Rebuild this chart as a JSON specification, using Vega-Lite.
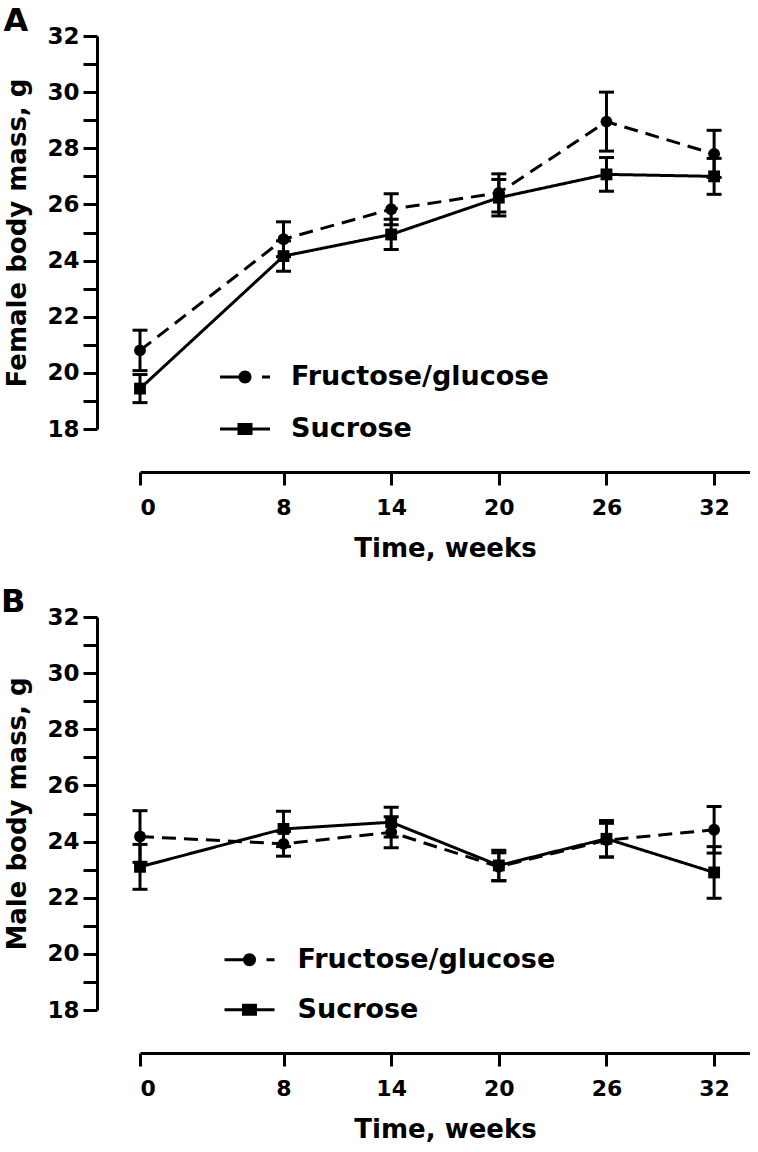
{
  "$schema": "https://vega.github.io/schema/vega-lite/v6.json",
  "background": "white",
  "padding": {"left": 0, "top": 5, "right": 0, "bottom": 0},
  "spacing": 25,
  "columns": 1,
  "align": "none",
  "resolve": {"scale": {"shape": "independent", "strokeDash": "independent", "opacity": "independent", "strokeWidth": "independent"}, "legend": {"shape": "independent", "strokeDash": "independent", "opacity": "independent", "strokeWidth": "independent"}},
  "data": {"values": [
    {"panel": "A", "series": "Fructose/glucose", "week": 0, "mean": 20.8, "sem": 0.72},
    {"panel": "A", "series": "Fructose/glucose", "week": 8, "mean": 24.76, "sem": 0.62},
    {"panel": "A", "series": "Fructose/glucose", "week": 14, "mean": 25.83, "sem": 0.55},
    {"panel": "A", "series": "Fructose/glucose", "week": 20, "mean": 26.41, "sem": 0.68},
    {"panel": "A", "series": "Fructose/glucose", "week": 26, "mean": 28.95, "sem": 1.05},
    {"panel": "A", "series": "Fructose/glucose", "week": 32, "mean": 27.8, "sem": 0.84},
    {"panel": "A", "series": "Sucrose", "week": 0, "mean": 19.44, "sem": 0.5},
    {"panel": "A", "series": "Sucrose", "week": 8, "mean": 24.16, "sem": 0.54},
    {"panel": "A", "series": "Sucrose", "week": 14, "mean": 24.93, "sem": 0.54},
    {"panel": "A", "series": "Sucrose", "week": 20, "mean": 26.24, "sem": 0.65},
    {"panel": "A", "series": "Sucrose", "week": 26, "mean": 27.07, "sem": 0.6},
    {"panel": "A", "series": "Sucrose", "week": 32, "mean": 27.0, "sem": 0.64},
    {"panel": "B", "series": "Fructose/glucose", "week": 0, "mean": 24.18, "sem": 0.92},
    {"panel": "B", "series": "Fructose/glucose", "week": 8, "mean": 23.92, "sem": 0.44},
    {"panel": "B", "series": "Fructose/glucose", "week": 14, "mean": 24.33, "sem": 0.55},
    {"panel": "B", "series": "Fructose/glucose", "week": 20, "mean": 23.1, "sem": 0.5},
    {"panel": "B", "series": "Fructose/glucose", "week": 26, "mean": 24.05, "sem": 0.6},
    {"panel": "B", "series": "Fructose/glucose", "week": 32, "mean": 24.42, "sem": 0.83},
    {"panel": "B", "series": "Sucrose", "week": 0, "mean": 23.1, "sem": 0.8},
    {"panel": "B", "series": "Sucrose", "week": 8, "mean": 24.45, "sem": 0.63},
    {"panel": "B", "series": "Sucrose", "week": 14, "mean": 24.69, "sem": 0.53},
    {"panel": "B", "series": "Sucrose", "week": 20, "mean": 23.15, "sem": 0.54},
    {"panel": "B", "series": "Sucrose", "week": 26, "mean": 24.1, "sem": 0.65},
    {"panel": "B", "series": "Sucrose", "week": 32, "mean": 22.9, "sem": 0.92}
  ]},
  "concat": [
    {
      "width": 610,
      "height": 393,
      "title": {"text": "A", "anchor": "start", "frame": "bounds", "fontSize": 32, "font": "DejaVu Sans", "fontWeight": "bold", "color": "black", "offset": -13, "dx": -1.5},
      "transform": [{"filter": "datum.panel === 'A'"}],
      "encoding": {
        "x": {"field": "week", "type": "quantitative", "scale": {"domain": [0, 34], "nice": false, "zero": false},
          "axis": {"title": "Time, weeks", "values": [0, 8, 14, 20, 26, 32], "offset": 43, "tickSize": 13, "labelPadding": 12, "titlePadding": 17, "labelFontSize": 22}},
        "y": {"field": "mean", "type": "quantitative", "scale": {"domain": [18, 32], "nice": false, "zero": false},
          "axis": {"title": "Female body mass, g", "values": [18, 19, 20, 21, 22, 23, 24, 25, 26, 27, 28, 29, 30, 31, 32],
            "labelExpr": "datum.value % 2 === 0 ? datum.label : ''", "offset": 43, "tickSize": 14, "labelPadding": 4, "titlePadding": 16, "labelFontSize": 23,
            "encode": {"ticks": {"update": {"x2": {"signal": "datum.value % 2 === 0 ? -14 : -10"}}}}}}
      },
      "layer": [
        {"mark": {"type": "errorbar", "ticks": {"size": 15, "thickness": 3, "color": "black", "opacity": 1}, "rule": {"strokeWidth": 3, "color": "black", "opacity": 1}, "thickness": 3, "color": "black", "opacity": 1},
          "encoding": {"yError": {"field": "sem"}, "detail": {"field": "series", "type": "nominal"}}},
        {"mark": {"type": "line", "strokeWidth": 3, "color": "black"},
          "encoding": {"strokeDash": {"field": "series", "type": "nominal", "scale": {"domain": ["Fructose/glucose", "Sucrose"], "range": [[14, 8], [1, 0]]}, "legend": null}}},
        {"mark": {"type": "point", "filled": true, "color": "black", "size": 140},
          "encoding": {
            "shape": {"field": "series", "type": "nominal", "scale": {"range": ["circle", "square"]}, "legend": null},
            "opacity": {"field": "series", "type": "ordinal", "scale": {"domain": ["Sucrose", "Fructose/glucose"], "range": [1, 1]},
              "legend": {"orient": "none", "legendX": 80, "legendY": 316, "title": null, "values": ["Fructose/glucose"],
                "symbolType": "M-1,-0.06H-0.2V0.06H-1Z M0.26,0A0.26,0.26 0 1,1 -0.26,0A0.26,0.26 0 1,1 0.26,0Z M0.68,-0.06H1V0.06H0.68Z",
                "symbolSize": 2500, "symbolStrokeWidth": 0, "symbolFillColor": "black", "symbolOpacity": 1,
                "labelFont": "DejaVu Sans", "labelFontSize": 27, "labelFontWeight": "bold", "labelColor": "black", "labelOffset": 21, "padding": 0, "labelLimit": 400}},
            "strokeWidth": {"field": "series", "type": "ordinal", "sort": "descending", "scale": {"range": [0, 0]},
              "legend": {"orient": "none", "legendX": 80, "legendY": 368, "title": null, "values": ["Sucrose"],
                "symbolType": "M-1,-0.06H1V0.06H-1Z M-0.3,-0.24H0.3V0.24H-0.3Z",
                "symbolSize": 2500, "symbolStrokeWidth": 0, "symbolFillColor": "black", "symbolOpacity": 1,
                "labelFont": "DejaVu Sans", "labelFontSize": 27, "labelFontWeight": "bold", "labelColor": "black", "labelOffset": 21, "padding": 0, "labelLimit": 400}}}}
      ]
    },
    {
      "width": 610,
      "height": 393,
      "title": {"text": "B", "anchor": "start", "frame": "bounds", "fontSize": 32, "font": "DejaVu Sans", "fontWeight": "bold", "color": "black", "offset": -13, "dx": -4},
      "transform": [{"filter": "datum.panel === 'B'"}],
      "encoding": {
        "x": {"field": "week", "type": "quantitative", "scale": {"domain": [0, 34], "nice": false, "zero": false},
          "axis": {"title": "Time, weeks", "values": [0, 8, 14, 20, 26, 32], "offset": 43, "tickSize": 13, "labelPadding": 12, "titlePadding": 17, "labelFontSize": 22}},
        "y": {"field": "mean", "type": "quantitative", "scale": {"domain": [18, 32], "nice": false, "zero": false},
          "axis": {"title": "Male body mass, g", "values": [18, 19, 20, 21, 22, 23, 24, 25, 26, 27, 28, 29, 30, 31, 32],
            "labelExpr": "datum.value % 2 === 0 ? datum.label : ''", "offset": 43, "tickSize": 14, "labelPadding": 4, "titlePadding": 16, "labelFontSize": 23,
            "encode": {"ticks": {"update": {"x2": {"signal": "datum.value % 2 === 0 ? -14 : -10"}}}}}}
      },
      "layer": [
        {"mark": {"type": "errorbar", "ticks": {"size": 15, "thickness": 3, "color": "black", "opacity": 1}, "rule": {"strokeWidth": 3, "color": "black", "opacity": 1}, "thickness": 3, "color": "black", "opacity": 1},
          "encoding": {"yError": {"field": "sem"}, "detail": {"field": "series", "type": "nominal"}}},
        {"mark": {"type": "line", "strokeWidth": 3, "color": "black"},
          "encoding": {"strokeDash": {"field": "series", "type": "nominal", "scale": {"domain": ["Fructose/glucose", "Sucrose"], "range": [[14, 8], [1, 0]]}, "legend": null}}},
        {"mark": {"type": "point", "filled": true, "color": "black", "size": 140},
          "encoding": {
            "shape": {"field": "series", "type": "nominal", "scale": {"range": ["circle", "square"]}, "legend": null},
            "opacity": {"field": "series", "type": "ordinal", "scale": {"domain": ["Sucrose", "Fructose/glucose"], "range": [1, 1]},
              "legend": {"orient": "none", "legendX": 84.5, "legendY": 317.7, "title": null, "values": ["Fructose/glucose"],
                "symbolType": "M-1,-0.06H-0.2V0.06H-1Z M0.26,0A0.26,0.26 0 1,1 -0.26,0A0.26,0.26 0 1,1 0.26,0Z M0.68,-0.06H1V0.06H0.68Z",
                "symbolSize": 2500, "symbolStrokeWidth": 0, "symbolFillColor": "black", "symbolOpacity": 1,
                "labelFont": "DejaVu Sans", "labelFontSize": 27, "labelFontWeight": "bold", "labelColor": "black", "labelOffset": 23, "padding": 0, "labelLimit": 400}},
            "strokeWidth": {"field": "series", "type": "ordinal", "sort": "descending", "scale": {"range": [0, 0]},
              "legend": {"orient": "none", "legendX": 84.5, "legendY": 367.7, "title": null, "values": ["Sucrose"],
                "symbolType": "M-1,-0.06H1V0.06H-1Z M-0.3,-0.24H0.3V0.24H-0.3Z",
                "symbolSize": 2500, "symbolStrokeWidth": 0, "symbolFillColor": "black", "symbolOpacity": 1,
                "labelFont": "DejaVu Sans", "labelFontSize": 27, "labelFontWeight": "bold", "labelColor": "black", "labelOffset": 23, "padding": 0, "labelLimit": 400}}}}
      ]
    }
  ],
  "config": {
    "view": {"stroke": null},
    "axis": {"grid": false, "domainColor": "black", "domainWidth": 3, "tickColor": "black", "tickWidth": 3,
      "labelFont": "DejaVu Sans", "labelFontWeight": "bold", "labelColor": "black",
      "titleFont": "DejaVu Sans", "titleFontWeight": "bold", "titleFontSize": 26, "titleColor": "black"}
  }
}
